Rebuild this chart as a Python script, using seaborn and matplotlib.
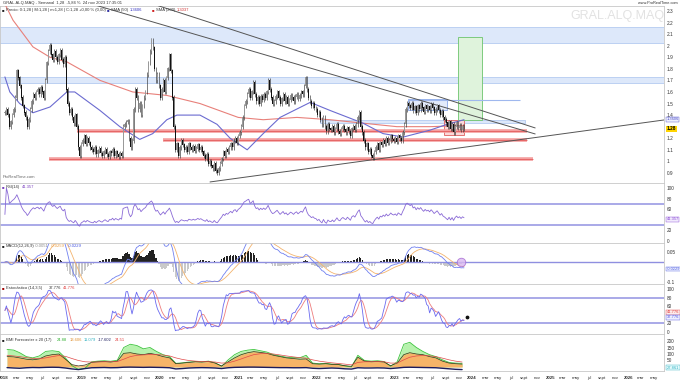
"""
GRAL.ALQ.MAQ semanal: precio + RSI + MACD + estocástico + BMI, estilo ProRealTime.
Guarda out.png (680x383).
"""

import numpy as np
import pandas as pd
import matplotlib.pyplot as plt
import matplotlib.dates as mdates
from matplotlib.patches import Rectangle
import seaborn as sns

# ---------------------------------------------------------------------------
# Cierres semanales (viernes, ene 2018 -> 24 nov 2023)
# ---------------------------------------------------------------------------
cierre_2018 = [1.42, 1.45, 1.40, 1.30, 1.34, 1.40, 1.45, 1.55, 1.78, 1.72, 1.65,
               1.55, 1.48, 1.42, 1.38, 1.30, 1.36, 1.45, 1.52, 1.58, 1.55,
               1.60, 1.62, 1.58, 1.64, 1.60, 1.55, 1.70, 1.85, 1.95,
               2.00, 1.92, 1.88, 1.95, 1.90, 1.86, 1.92, 1.96, 1.88, 1.84, 1.90,
               1.62, 1.50, 1.42, 1.45, 1.38, 1.33, 1.40, 1.30, 1.12, 1.05, 1.15]
cierre_2019 = [1.18, 1.22, 1.15, 1.20, 1.16, 1.12,
               1.10, 1.08, 1.12, 1.06, 1.09, 1.11, 1.07, 1.05, 1.08,
               1.10, 1.06, 1.04, 1.08, 1.07, 1.10, 1.05, 1.08, 1.06, 1.04, 1.07, 1.05,
               1.30, 1.32, 1.34, 1.35, 1.20, 1.12, 1.18, 1.45, 1.62,
               1.55, 1.45, 1.50, 1.40, 1.48, 1.55, 1.60,
               1.75, 1.85, 1.95, 2.05, 1.98, 1.80, 1.70, 1.75, 1.65]
cierre_2020 = [1.55, 1.62, 1.70, 1.60, 1.72, 1.80, 1.92,
               1.78, 1.55, 1.30, 1.10,
               1.15, 1.05, 1.12, 1.18, 1.14, 1.10, 1.12, 1.08, 1.15, 1.12, 1.10,
               1.13, 1.09, 1.11, 1.14, 1.10,
               1.12, 1.08, 1.05, 1.02, 1.06, 0.98, 1.00, 0.96, 0.94, 0.98, 0.92,
               0.90, 0.94,
               0.98, 1.02, 1.08, 1.05, 1.10, 1.08, 1.12, 1.15, 1.12, 1.18, 1.20, 1.16]
cierre_2021 = [1.22, 1.25, 1.30, 1.38, 1.48,
               1.52, 1.58, 1.62, 1.55, 1.60, 1.68,
               1.58, 1.52, 1.55, 1.50, 1.56, 1.53, 1.58, 1.55, 1.60,
               1.70, 1.62, 1.55, 1.50,
               1.52, 1.56, 1.60, 1.55, 1.50, 1.54, 1.58, 1.52, 1.55, 1.50,
               1.53, 1.57, 1.55, 1.52, 1.56, 1.58, 1.54, 1.57, 1.60, 1.58,
               1.65, 1.72, 1.62, 1.55, 1.52, 1.48, 1.50, 1.46]
cierre_2022 = [1.45, 1.40, 1.42, 1.36, 1.32,
               1.38, 1.30, 1.26, 1.32, 1.28,
               1.27, 1.30, 1.25, 1.28, 1.32, 1.26, 1.24, 1.28, 1.30, 1.27,
               1.25, 1.29, 1.26, 1.22, 1.28, 1.30, 1.27, 1.32,
               1.38, 1.42, 1.30, 1.25,
               1.18, 1.12, 1.15, 1.08, 1.10, 1.05, 1.03, 1.08,
               1.12, 1.15, 1.10, 1.16, 1.14, 1.18, 1.15, 1.20, 1.16, 1.18, 1.22, 1.19]
cierre_2023 = [1.18, 1.20, 1.17, 1.22, 1.20, 1.18,
               1.25,
               1.32, 1.45, 1.50, 1.48,
               1.46, 1.50, 1.44, 1.47, 1.42, 1.48, 1.45, 1.50, 1.46, 1.43, 1.48,
               1.45, 1.47, 1.44, 1.49, 1.46, 1.42, 1.45, 1.48, 1.44, 1.40, 1.43, 1.38,
               1.36, 1.33, 1.30, 1.34, 1.28, 1.32, 1.25, 1.30, 1.33, 1.29, 1.31,
               1.27, 1.30, 1.28]

# Medias móviles
sma50_fechas = ["2018-01-05", "2018-01-28", "2018-03-15", "2018-05-16", "2018-08-04",
                "2018-10-22", "2018-11-28", "2019-03-26", "2019-06-27", "2019-09-28",
                "2019-11-28", "2020-02-02", "2020-03-20", "2020-07-06", "2020-09-24",
                "2020-11-24", "2021-02-12", "2021-04-28", "2021-07-16", "2021-12-04",
                "2022-03-07", "2022-08-08", "2022-11-10", "2023-02-12", "2023-06-18",
                "2023-09-05", "2023-11-24"]
sma50_vals = [1.73, 1.60, 1.50, 1.42, 1.47, 1.60, 1.60, 1.44, 1.30, 1.19,
              1.24, 1.36, 1.40, 1.40, 1.32, 1.20, 1.10, 1.24, 1.38, 1.51,
              1.44, 1.33, 1.24, 1.21, 1.27, 1.32, 1.36]
sma200_fechas = ["2018-01-05", "2018-02-12", "2018-05-16", "2018-08-04", "2018-10-22",
                 "2019-03-26", "2019-08-26", "2020-02-02", "2020-07-06", "2021-01-01",
                 "2021-04-28", "2021-10-03", "2022-03-07", "2022-08-08", "2023-01-14",
                 "2023-06-18", "2023-11-24"]
sma200_vals = [2.36, 2.22, 1.99, 1.90, 1.86, 1.70, 1.60, 1.57, 1.50, 1.38,
               1.36, 1.38, 1.36, 1.33, 1.30, 1.30, 1.31]

# Zonas y líneas dibujadas a mano en el gráfico
zonas_azules = [("2017-12-01", "2026-12-31", 2.02, 2.16),
                ("2017-12-01", "2026-12-31", 1.68, 1.73),
                ("2022-01-19", "2024-09-05", 1.335, 1.36)]
soportes_rojos = [("2018-12-07", "2024-09-15", 1.263),
                  ("2020-01-14", "2024-09-15", 1.185),
                  ("2018-07-30", "2024-10-13", 1.021)]
linea_azul = ("2023-03-08", "2024-08-14", 1.53)
caja_azul = ("2023-03-08", "2023-09-05", 1.44, 1.54)
caja_roja = ("2023-08-22", "2023-11-24", 1.23, 1.36)
caja_verde = ("2023-10-27", "2024-02-18", 1.36, 2.075)
tendencias = [(("2019-03-02", 2.352), ("2024-10-22", 1.237)),
              (("2019-11-14", 2.369), ("2024-10-22", 1.289)),
              (("2020-08-22", 0.822), ("2026-09-01", 1.377))]

# Panel inferior (BMI), valores mensuales
bmi_verde = [135, 130, 110, 80, 70, 85, 120, 125, 118, 70, 10, -20,
             -10, 40, 45, 48, 44, 52, 150, 175, 165, 140, 150, 120,
             95, 80, 28, 32, 38, 42, 40, 45, 32, 5, 55, 95,
             120, 130, 135, 125, 115, 95, 85, 75, 72, 70, 90, 30,
             25, 28, 22, 20, 8, 0, 90, 50, 45, 48, 42, 5,
             40, 175, 190, 150, 120, 95, 80, 55, 35, 30, 28]
bmi_naranja = [80, 78, 70, 60, 55, 62, 85, 95, 100, 60, 18, 8,
               15, 35, 40, 42, 38, 45, 105, 110, 100, 95, 105, 95,
               80, 70, 25, 30, 35, 40, 38, 42, 30, 8, 40, 70,
               95, 110, 118, 112, 105, 90, 80, 70, 65, 60, 62, 25,
               22, 25, 20, 18, 10, 5, 75, 45, 40, 42, 38, 10,
               30, 95, 110, 100, 95, 80, 70, 45, 30, 25, 22]
bmi_rojo = [90, 85, 80, 72, 66, 64, 70, 80, 88, 82, 65, 50,
            40, 38, 38, 40, 40, 42, 60, 80, 90, 93, 96, 96,
            92, 85, 70, 58, 50, 45, 42, 41, 38, 30, 32, 45,
            62, 80, 95, 102, 104, 100, 93, 85, 78, 72, 68, 55,
            45, 38, 32, 27, 22, 16, 35, 40, 40, 41, 40, 30,
            30, 55, 75, 85, 88, 86, 80, 68, 55, 45, 38]
bmi_marino = [-5, -8, -10, -6, -4, -5, -3, -2, -3, -8, -15, -20,
              -12, -6, -5, -4, -6, -5, -2, -1, -2, -3, -2, -3,
              -4, -6, -15, -12, -8, -6, -5, -6, -8, -12, -6, -3,
              -2, -1, -1, -2, -3, -4, -5, -5, -6, -6, -5, -10,
              -12, -10, -8, -10, -14, -16, -6, -8, -8, -7, -8, -12,
              -8, -3, -2, -3, -4, -5, -6, -10, -14, -18, -20]

meses_abrev = {3: "mar", 5: "may", 7: "jul", 9: "sept", 11: "nov"}

# ---------------------------------------------------------------------------
sns.set_theme(style="white")
plt.rcParams["font.family"] = ["Liberation Sans", "DejaVu Sans"]

W, H = 680, 383
X0, X1 = pd.Timestamp("2017-12-13"), pd.Timestamp("2026-06-17")
TXT = "#333333"


def caja(y0, y1):
    return [0, 1 - y1 / H, 664 / W, (y1 - y0) / H]


def fx(px):
    return px / W


def fy(py):
    return 1 - py / H


def preparar(ax, ylim, ticks, fmt=str):
    ax.set_xlim(X0, X1)
    ax.set_ylim(*ylim)
    ax.yaxis.tick_right()
    ax.set_yticks(ticks)
    ax.set_yticklabels([fmt(t) for t in ticks])
    ax.tick_params(axis="y", labelsize=3.4, length=0, pad=2, colors=TXT)
    ax.tick_params(axis="x", bottom=False, labelbottom=False, length=0)
    ax.set_xlabel("")
    ax.set_ylabel("")
    for s in ax.spines.values():
        s.set_color("#c8c8c8")
        s.set_linewidth(0.6)


def etiqueta_valor(ax, y, texto, color, fondo, negrita=False):
    ax.text(1.004, y, texto, transform=ax.get_yaxis_transform(), fontsize=2.9,
            color=color, va="center", ha="left", clip_on=False, zorder=10,
            fontweight="bold" if negrita else "normal",
            bbox=dict(boxstyle="square,pad=0.12", fc=fondo, ec=color, lw=0.3))


cierres = np.array(cierre_2018 + cierre_2019 + cierre_2020 + cierre_2021
                   + cierre_2022 + cierre_2023)
fechas = pd.date_range("2018-01-05", periods=len(cierres), freq="7D")
xs = mdates.date2num(fechas)
aperturas = np.r_[cierres[0], cierres[:-1]]
altos = np.maximum(aperturas, cierres) + 0.02
bajos = np.minimum(aperturas, cierres) - 0.02

fig = plt.figure(figsize=(W / 100, H / 100), dpi=100)
ax_p = fig.add_axes(caja(6, 183))
ax_rsi = fig.add_axes(caja(183, 243))
ax_macd = fig.add_axes(caja(243, 284))
ax_sto = fig.add_axes(caja(284, 334))
ax_bmi = fig.add_axes(caja(334, 371))

# ---------------------------- precio ----------------------------------------
for f0, f1, lo, hi in zonas_azules:
    a = mdates.date2num(pd.Timestamp(f0))
    b = mdates.date2num(pd.Timestamp(f1))
    ax_p.add_patch(Rectangle((a, lo), b - a, hi - lo, fc="#dde8fa", ec="#a9c3ee",
                             lw=0.5, zorder=1))
for f0, f1, nivel in soportes_rojos:
    ax_p.hlines(nivel, pd.Timestamp(f0), pd.Timestamp(f1), color="#f4a0a0", lw=2.6, zorder=2)
    ax_p.hlines(nivel, pd.Timestamp(f0), pd.Timestamp(f1), color="#e05050", lw=0.5, zorder=2)
ax_p.hlines(linea_azul[2], pd.Timestamp(linea_azul[0]), pd.Timestamp(linea_azul[1]),
            color="#9fb8ee", lw=0.8, zorder=2)

for (f0, f1, lo, hi), fc, ec in [(caja_azul, "#e3ebfb", "#8aa8e8"),
                                 (caja_roja, "#fbd8d8", "#e06060"),
                                 (caja_verde, "#dff3dc", "#6cc46c")]:
    a = mdates.date2num(pd.Timestamp(f0))
    b = mdates.date2num(pd.Timestamp(f1))
    ax_p.add_patch(Rectangle((a, lo), b - a, hi - lo, fc=fc, ec=ec, lw=0.6, zorder=1.5))

for (f0, p0), (f1, p1) in tendencias:
    ax_p.plot([pd.Timestamp(f0), pd.Timestamp(f1)], [p0, p1], color="#555555", lw=0.7, zorder=3)

sns.lineplot(x=pd.to_datetime(sma200_fechas), y=sma200_vals, ax=ax_p, color="#e8807a",
             lw=0.8, errorbar=None, zorder=3)
sns.lineplot(x=pd.to_datetime(sma50_fechas), y=sma50_vals, ax=ax_p, color="#6b6bd0",
             lw=0.8, errorbar=None, zorder=3)

sube = cierres >= aperturas
ax_p.vlines(xs, bajos, altos, color="#333333", lw=0.45, zorder=4)
ax_p.bar(xs, np.abs(cierres - aperturas) + 0.006, bottom=np.minimum(aperturas, cierres),
         width=4.2, color=np.where(sube, "#9a9a9a", "#111111"), lw=0, zorder=5)

ticks_precio = [round(0.9 + 0.1 * i, 1) for i in range(15)]
ticks_precio.remove(1.3)
preparar(ax_p, (0.813, 2.343), ticks_precio,
         lambda v: f"{v:.1f}".rstrip("0").rstrip("."))
etiqueta_valor(ax_p, 1.365, "1.3606", "#5050c8", "#eef0ff")
ax_p.text(1.004, 1.28, "1.28", transform=ax_p.get_yaxis_transform(), fontsize=3.4,
          fontweight="bold", color="black", va="center", ha="left", clip_on=False, zorder=11,
          bbox=dict(boxstyle="square,pad=0.18", fc="#ffd400", ec="none"))
ax_p.text(0.004, 0.02, "ProRealTime.com", transform=ax_p.transAxes, fontsize=3,
          color="#666666", va="bottom")

# ---------------------------- RSI -------------------------------------------
serie = pd.Series(cierres)
dif = serie.diff()
suben = dif.clip(lower=0).ewm(alpha=1 / 14, adjust=False).mean()
bajan = (-dif.clip(upper=0)).ewm(alpha=1 / 14, adjust=False).mean()
rsi = (100 - 100 / (1 + suben / bajan)).fillna(50)

ax_rsi.axhline(70, color="#a3a3e6", lw=1.3)
ax_rsi.axhline(30, color="#a3a3e6", lw=1.3)
sns.lineplot(x=fechas, y=rsi.values, ax=ax_rsi, color="#8a6ad6", lw=0.6, errorbar=None)
preparar(ax_rsi, (-3.8, 109.4), [0, 20, 60, 80, 100])
etiqueta_valor(ax_rsi, 41.357, "41.357", "#8a4ad6", "#f1eafc")

# ---------------------------- MACD ------------------------------------------
macd = serie.ewm(span=12, adjust=False).mean() - serie.ewm(span=26, adjust=False).mean()
senal = macd.ewm(span=9, adjust=False).mean()
hist = (macd - senal).values

ax_macd.bar(xs, hist, width=5.5, color=np.where(hist >= 0, "#222222", "#c9c9c9"), lw=0)
ax_macd.axhline(0, color="#8f8fe0", lw=1.0)
sns.lineplot(x=fechas, y=senal.values, ax=ax_macd, color="#f4b46e", lw=0.6, errorbar=None)
sns.lineplot(x=fechas, y=macd.values, ax=ax_macd, color="#7080f0", lw=0.6, errorbar=None)
ax_macd.scatter([pd.Timestamp("2023-11-10")], [0.0], s=38, fc="#d9b8f0", ec="#a060d0",
                lw=0.6, alpha=0.8, zorder=6)
preparar(ax_macd, (-0.11, 0.095), [-0.1, 0.05], lambda v: f"{v:g}")
etiqueta_valor(ax_macd, -0.035, "-0.0229", "#5060e0", "#eef0ff")

# ---------------------------- Estocástico -----------------------------------
ll = pd.Series(bajos).rolling(14, min_periods=1).min()
hh = pd.Series(altos).rolling(14, min_periods=1).max()
k_rapido = 100 * (serie - ll) / (hh - ll)
k_lento = k_rapido.rolling(3, min_periods=1).mean()
d_lento = k_lento.rolling(5, min_periods=1).mean()

ax_sto.axhline(80, color="#a3a3e6", lw=1.3)
ax_sto.axhline(20, color="#a3a3e6", lw=1.3)
sns.lineplot(x=fechas, y=d_lento.values, ax=ax_sto, color="#ee7d7d", lw=0.6, errorbar=None)
sns.lineplot(x=fechas, y=k_lento.values, ax=ax_sto, color="#6a6af0", lw=0.6, errorbar=None)
ax_sto.scatter([fechas[-1] + pd.Timedelta(days=14)], [35], s=3, color="#111111", zorder=6)
preparar(ax_sto, (-4.7, 111.6), [0, 20, 60, 80, 100])
etiqueta_valor(ax_sto, 46, "41.776", "#e04040", "#fdecec")
etiqueta_valor(ax_sto, 34, "37.776", "#5050e0", "#eef0ff")

# ---------------------------- BMI -------------------------------------------
meses = pd.date_range("2018-01-01", periods=len(bmi_naranja), freq="MS") + pd.Timedelta(days=14)
ax_bmi.fill_between(meses, 0, bmi_verde, color="#b6f2ad", lw=0)
sns.lineplot(x=meses, y=bmi_verde, ax=ax_bmi, color="#3cc43c", lw=0.6, errorbar=None)
ax_bmi.fill_between(meses, 0, bmi_naranja, color="#f6b468", lw=0)
sns.lineplot(x=meses, y=bmi_naranja, ax=ax_bmi, color="#3a2a10", lw=0.5, errorbar=None)
sns.lineplot(x=meses, y=bmi_rojo, ax=ax_bmi, color="#e04848", lw=0.5, errorbar=None)
sns.lineplot(x=meses, y=bmi_marino, ax=ax_bmi, color="#1c1c5c", lw=1.0, errorbar=None)
preparar(ax_bmi, (-31, 254), [50, 100, 150, 200])
etiqueta_valor(ax_bmi, -6, "27.861", "#30b0c0", "#e6fbfd")

# eje de fechas
marcas, textos = [], []
for anio in range(2018, 2027):
    for mes in [1, 3, 5, 7, 9, 11]:
        f = pd.Timestamp(anio, mes, 1)
        if X0 <= f <= X1:
            marcas.append(f)
            textos.append(str(anio) if mes == 1 else meses_abrev[mes])
ax_bmi.set_xticks(marcas)
ax_bmi.set_xticklabels(textos)
ax_bmi.tick_params(axis="x", bottom=False, labelbottom=True, labelsize=3.2, pad=3.5,
                   length=0, colors=TXT)
for t in ax_bmi.get_xticklabels():
    if t.get_text().isdigit():
        t.set_fontweight("bold")
ax_bmi.set_xlim(X0, X1)

# ---------------------------- textos ----------------------------------------
fig.text(fx(3), fy(3), "GRAL.ALQ.MAQ - Semanal  1,28  -5,84 %  24 nov 2023 17:35:01",
         fontsize=3.0, color=TXT, va="center")
fig.text(fx(678), fy(2.5), "www.ProRealTime.com", fontsize=2.8, color=TXT,
         va="center", ha="right")
fig.text(fx(617), fy(16), "GRAL.ALQ.MAQ", fontsize=9, color="#e2e2e2", va="center",
         ha="center")


def leyenda(px, py, partes):
    x = px
    for texto, color in partes:
        fig.text(fx(x), fy(py), texto, fontsize=3.0, color=color, va="center")
        x += len(texto) * 2.05 + 2


leyenda(2, 10, [("■", "#222222"), ("Precio: 0:1,28 | M:1,28 | m:1,28 | C:1,28 +0,00 % (0,00)", TXT)])
leyenda(107, 10, [("■", "#3030a0"), ("SMA (50)", TXT), ("1.3606", "#3030c0")])
leyenda(152, 10, [("■", "#d02020"), ("SMA (200)", TXT), ("1.3037", "#d03030")])
leyenda(2, 187, [("■", "#7a40c0"), ("RSI(14)", TXT), ("41.357", "#7a40c0")])
leyenda(2, 246, [("■", "#222222"), ("MACD(12,26,9)", TXT), ("-0.0051", "#888888"),
                 ("-0.0259", "#e89a40"), ("-0.0229", "#4050e0")])
leyenda(2, 288, [("■", "#a00000"), ("Estocástico (14,3,5)", TXT), ("37.776", TXT),
                 ("41.776", "#e04040")])
leyenda(2, 340, [("■", "#222222"), ("BMI Forecaster x 20 (17)", TXT), ("24.88", "#30b030"),
                 ("13.606", "#e09030"), ("11.079", "#30b0c0"), ("-17.602", "#1c1c5c"),
                 ("24.51", "#e04040")])

fig.savefig("out.png", dpi=100)
